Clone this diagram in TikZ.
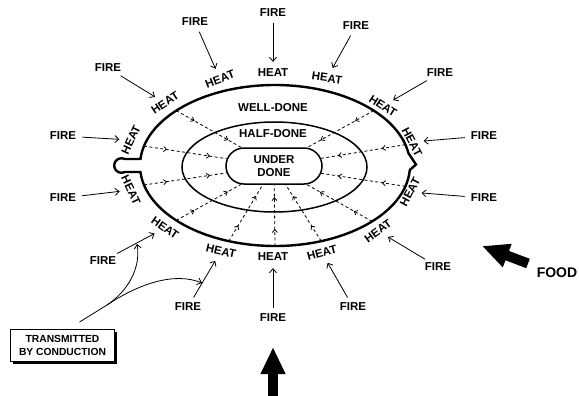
\documentclass[tikz,border=0pt]{standalone}
\usepackage{fontspec}
\setmainfont{Liberation Sans}
\usetikzlibrary{arrows.meta,calc,decorations.markings,shadows,shapes.misc}
\tikzset{
  lbl/.style={font=\bfseries\fontsize{11.5}{12.5}\selectfont, inner sep=1pt},
  flow/.style={line width=0.8pt, -{Straight Barb[length=4pt,width=7pt]}, shorten <=5pt, shorten >=6pt},
  cook/.style={line width=0.8pt, dash pattern=on 3pt off 2.5pt, postaction=decorate,
    decoration={markings,
      mark=at position 0.28 with {\arrow{Straight Barb[length=3pt,width=5pt]}},
      mark=at position 0.8 with {\arrow{Straight Barb[length=3pt,width=5pt]}}}},
  bigarrow/.style={line width=10pt, -{Triangle[length=27pt,width=23pt]}},
}
\begin{document}
\begin{tikzpicture}[x=1pt,y=-1pt]
    \useasboundingbox (0,0) rectangle (579,396);
    \begin{scope}[shift={(275,165.5)}]
        \draw[line width=2.4pt] (184.6:135 and 80.5) arc[start angle=184.6,end angle=351.1,x radius=135,y radius=80.5]
            -- (141,-1) -- (3.2:135 and 80.5) arc[start angle=3.2,end angle=175.4,x radius=135,y radius=80.5]
            -- (-150.2,6.5) arc[start angle=63,end angle=297,radius=7.3] -- cycle;
    \end{scope}
    \draw[line width=1.5pt] (274.5,167) ellipse [x radius=92.5,y radius=45];
    \node[lbl, draw, line width=1.5pt, rounded rectangle, minimum width=98pt, minimum height=36pt, align=center] (under) at (274,166) {UNDER\\DONE};
    \node[lbl] (well) at (273,108) {WELL-DONE};
    \node[lbl] (half) at (273,134) {HALF-DONE};
    \foreach \a in {-43,-15,15,44,70,90,110,137,166,194,223}{
        \coordinate (o\a) at ($(275,165.5)+(\a:135 and 80.5)$);
        \draw[cook] (o\a) -- (under);
    }
    \foreach \i/\hx/\hy/\r/\fx/\fy in {1/131/140/65/63/136, 2/165/103/34/108/68, 3/220/79/21/195/22,
        4/273/73/0/273/13, 5/327/78/-8/356/26, 6/383/106/-33/440/73, 7/412/142/-62/484/136,
        8/410/192/62/484/198, 9/378/231/36/438/267, 10/322/253/15/353/307, 11/273/257/0/273/318,
        12/221/251/-13/188/307, 13/165/228/-35/103/261, 14/131/190/-65/63/198}{
        \node[lbl, rotate=\r] (h\i) at (\hx,\hy) {HEAT};
        \node[lbl] (f\i) at (\fx,\fy) {FIRE};
        \draw[flow] (f\i) -- (h\i);
    }
    \node[draw, line width=0.9pt, fill=white, drop shadow={shadow xshift=2pt,shadow yshift=-2pt,fill=black,opacity=1},
        font=\bfseries\fontsize{10.3}{12.5}\selectfont, align=center, minimum width=104pt, minimum height=32pt, inner sep=1pt]
        (cond) at (62.5,345.5) {TRANSMITTED\\BY CONDUCTION};
    \coordinate (fork) at (107,305);
    \coordinate (hit1) at (137,244);
    \coordinate (hit2) at (202,283);
    \draw[line width=0.8pt, -{Straight Barb[length=4pt,width=7pt]}] ([xshift=17pt,yshift=7pt]cond.north) -- (fork)
        .. controls (128,291) and (141,268) .. (hit1);
    \draw[line width=0.8pt, -{Straight Barb[length=4pt,width=7pt]}] (fork) .. controls (140,283) and (175,272) .. (hit2);
    \node[font=\bfseries\fontsize{14}{16}\selectfont, inner sep=1pt] (food) at (557,273) {FOOD};
    \coordinate (foodtail) at (528,263.5);
    \coordinate (foodtip) at (482,246);
    \draw[bigarrow] (foodtail) -- (foodtip);
    \coordinate (base) at (273,396);
    \coordinate (tip) at (273,347);
    \draw[bigarrow] (base) -- (tip);
\end{tikzpicture}
\end{document}
